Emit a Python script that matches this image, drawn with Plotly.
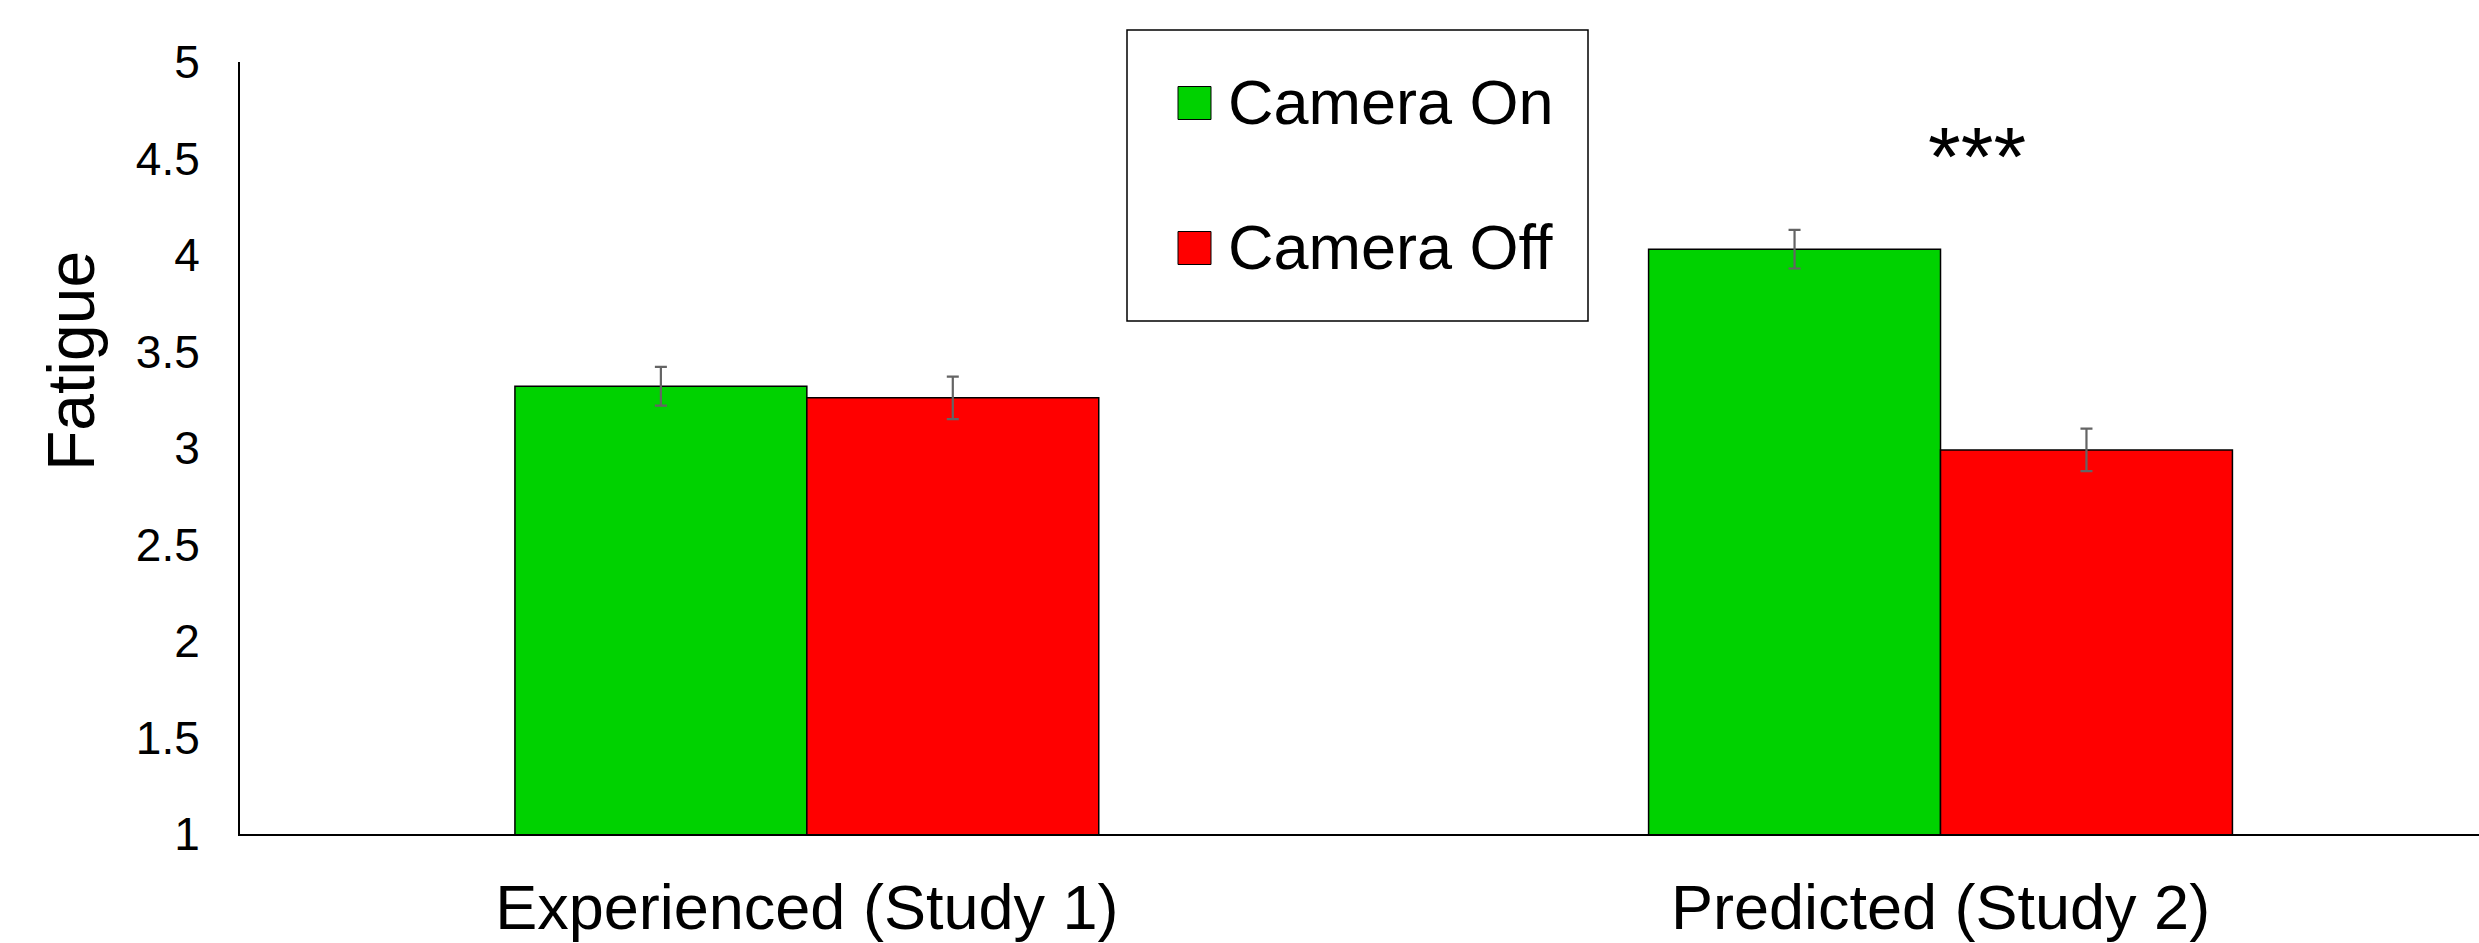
import plotly.graph_objects as go

# Fatigue by camera condition, two studies
categories = ["Experienced (Study 1)", "Predicted (Study 2)"]
series_names = ["Camera On", "Camera Off"]
camera_on = [3.32, 4.03]
camera_on_err = [0.10, 0.10]
camera_off = [3.26, 2.99]
camera_off_err = [0.11, 0.11]
y_ticks = [1, 1.5, 2, 2.5, 3, 3.5, 4, 4.5, 5]
y_tick_text = ["1", "1.5", "2", "2.5", "3", "3.5", "4", "4.5", "5"]
significance = "***"

colors = ["#00D200", "#FF0000"]
FONT = "Liberation Sans, Arial, sans-serif"

W, H = 2479, 943
L, R, T, B = 240, 0, 62, 109
PW, PH = W - L - R, H - T - B


def px_x(p):
    return (p - L) / PW


def px_y(p):
    return (H - B - p) / PH


x_pos = list(range(len(categories)))

fig = go.Figure()
for name, vals, errs, col in [
    (series_names[0], camera_on, camera_on_err, colors[0]),
    (series_names[1], camera_off, camera_off_err, colors[1]),
]:
    fig.add_trace(go.Bar(
        x=x_pos, y=vals, name=name,
        marker=dict(color=col, line=dict(color="black", width=1.5)),
        error_y=dict(type="data", array=errs, visible=True,
                     color="#646464", thickness=2.2, width=6),
        showlegend=False,
    ))

fig.update_layout(
    width=W, height=H,
    margin=dict(l=L, r=R, t=T, b=B, pad=0, autoexpand=False),
    paper_bgcolor="white", plot_bgcolor="white",
    barmode="group", bargap=0.485, bargroupgap=0,
    font=dict(family=FONT, color="black"),
    xaxis=dict(
        range=[-0.5, 1.475], tickmode="array", tickvals=x_pos, ticktext=categories,
        showline=True, linecolor="black", linewidth=2, showgrid=False,
        zeroline=False, ticks="", tickfont=dict(size=63, family=FONT),
        ticklabelstandoff=17, automargin=False,
    ),
    yaxis=dict(
        range=[1, 5], tickmode="array", tickvals=y_ticks, ticktext=y_tick_text,
        showline=True, linecolor="black", linewidth=2, showgrid=False,
        zeroline=False, ticks="", tickfont=dict(size=46, family=FONT),
        ticklabelstandoff=29, automargin=False,
    ),
)

# axis title
fig.add_annotation(
    text="Fatigue", xref="paper", yref="paper", x=px_x(71), y=px_y(361),
    textangle=-90, showarrow=False, font=dict(size=66, family=FONT),
    xanchor="center", yanchor="middle",
)

# significance marker over the second group
fig.add_annotation(
    text=significance, xref="x", yref="paper", x=1.032, y=px_y(157),
    showarrow=False, font=dict(size=84, family=FONT),
    xanchor="center", yanchor="middle",
)

# legend box
fig.add_shape(type="rect", xref="paper", yref="paper",
              x0=px_x(1127), x1=px_x(1588), y0=px_y(321), y1=px_y(30),
              line=dict(color="black", width=1.5), fillcolor="white", layer="above")
for i, (name, col) in enumerate(zip(series_names, colors)):
    cy = 103 + i * 145
    fig.add_shape(type="rect", xref="paper", yref="paper",
                  x0=px_x(1178), x1=px_x(1211), y0=px_y(cy + 16.5), y1=px_y(cy - 16.5),
                  line=dict(color="black", width=1), fillcolor=col, layer="above")
    fig.add_annotation(
        text=name, xref="paper", yref="paper", x=px_x(1226), y=px_y(cy - 1),
        showarrow=False, font=dict(size=63, family=FONT),
        xanchor="left", yanchor="middle",
    )

fig.write_html("out.html")
